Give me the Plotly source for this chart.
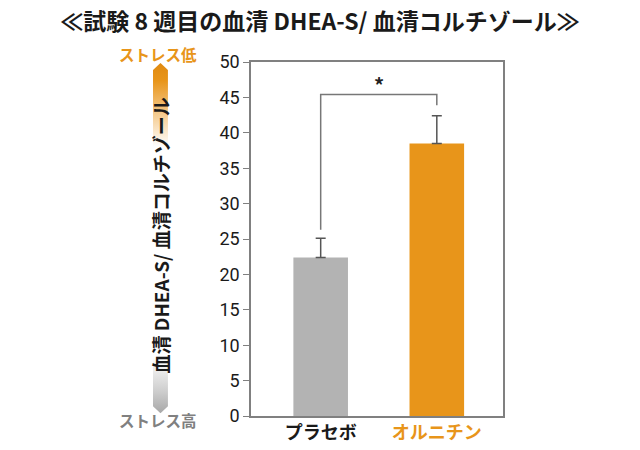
import base64

import plotly.graph_objects as go

# data
groups = ["プラセボ", "オルニチン"]
means = [22.4, 38.5]
sd_plus = [2.7, 3.9]
bar_colors = ["#b3b3b3", "#e8951a"]
label_colors = ["#1a1a1a", "#e8951a"]
y_ticks = [0, 5, 10, 15, 20, 25, 30, 35, 40, 45, 50]
bracket_y = 45.4
bracket_ends = [26.3, 43.9]

FONT = "Noto Sans CJK JP"
ORANGE = "#e8951a"

fig = go.Figure()
fig.add_trace(go.Bar(
    x=[0, 1], y=means, width=0.47,
    marker=dict(color=bar_colors, line=dict(width=0)),
    error_y=dict(type="data", array=sd_plus, arrayminus=[0, 0], symmetric=False,
                 color="#555555", thickness=1.5, width=5),
))

# significance bracket
fig.add_trace(go.Scatter(
    x=[0, 0, 1, 1], y=[bracket_ends[0], bracket_y, bracket_y, bracket_ends[1]],
    mode="lines", line=dict(color="#777777", width=1.5), hoverinfo="skip",
))
fig.add_annotation(x=0.5, y=bracket_y, text="<b>*</b>", showarrow=False, yshift=10,
                   font=dict(size=20, color="#222222", family=FONT))

# gradient arrow on the left
svg = (
    '<svg xmlns="http://www.w3.org/2000/svg" viewBox="0 0 15 350" preserveAspectRatio="none">'
    '<defs><linearGradient id="g" x1="0" y1="0" x2="0" y2="1">'
    '<stop offset="0" stop-color="#e08a10"/>'
    '<stop offset="0.05" stop-color="#e8951a"/>'
    '<stop offset="0.16" stop-color="#f6d3a0"/>'
    '<stop offset="0.24" stop-color="#ffffff"/>'
    '<stop offset="0.84" stop-color="#ffffff"/>'
    '<stop offset="0.94" stop-color="#cccccc"/>'
    '<stop offset="1" stop-color="#a8a8a8"/>'
    '</linearGradient></defs>'
    '<polygon points="0,7 7.5,0 15,7 15,343 7.5,350 0,343" fill="url(#g)"/></svg>'
)
src = "data:image/svg+xml;base64," + base64.b64encode(svg.encode()).decode()
fig.add_layout_image(source=src, xref="paper", yref="paper", x=-0.389, y=0.997,
                     sizex=0.0595, sizey=0.989, sizing="stretch",
                     xanchor="left", yanchor="top", layer="below")

fig.add_annotation(xref="paper", yref="paper", x=-0.361, y=0.51, xanchor="center", yanchor="middle",
                   text="<b>血清 DHEA-S/ 血清コルチゾール</b>", textangle=-90, showarrow=False,
                   font=dict(size=19, color="#1a1a1a", family=FONT))
fig.add_annotation(xref="paper", yref="paper", x=-0.368, y=1.024, xanchor="center", yanchor="middle",
                   text="<b>ストレス低</b>", showarrow=False,
                   font=dict(size=15.5, color=ORANGE, family=FONT))
fig.add_annotation(xref="paper", yref="paper", x=-0.368, y=-0.011, xanchor="center", yanchor="middle",
                   text="<b>ストレス高</b>", showarrow=False,
                   font=dict(size=15.5, color="#808080", family=FONT))

fig.update_layout(
    width=640, height=450,
    margin=dict(l=243, r=145, t=54, b=42, autoexpand=False),
    paper_bgcolor="white", plot_bgcolor="white",
    showlegend=False,
    title=dict(text="<b>≪試験 8 週目の血清 DHEA-S/ 血清コルチゾール≫</b>",
               x=0.4875, xanchor="center", y=0.968, yanchor="middle",
               font=dict(size=23, color="#1a1a1a", family=FONT)),
    font=dict(family=FONT),
)
fig.update_xaxes(
    range=[-0.6, 1.57], showgrid=False, zeroline=False,
    tickvals=[0, 1],
    ticktext=[f"<b><span style='color:{c}'>{g}</span></b>" for g, c in zip(groups, label_colors)],
    tickfont=dict(size=18, family=FONT), ticks="",
    showline=True, linecolor="#808080", linewidth=1.5, mirror=True,
)
fig.update_yaxes(
    range=[0, 50], tickvals=y_ticks, showgrid=False, zeroline=False,
    ticks="outside", ticklen=6, tickcolor="#808080", tickwidth=1.2,
    tickfont=dict(size=18, color="#1a1a1a", family="Roboto"),
    showline=True, linecolor="#808080", linewidth=1.5, mirror=True,
)

fig.write_html("out.html")
